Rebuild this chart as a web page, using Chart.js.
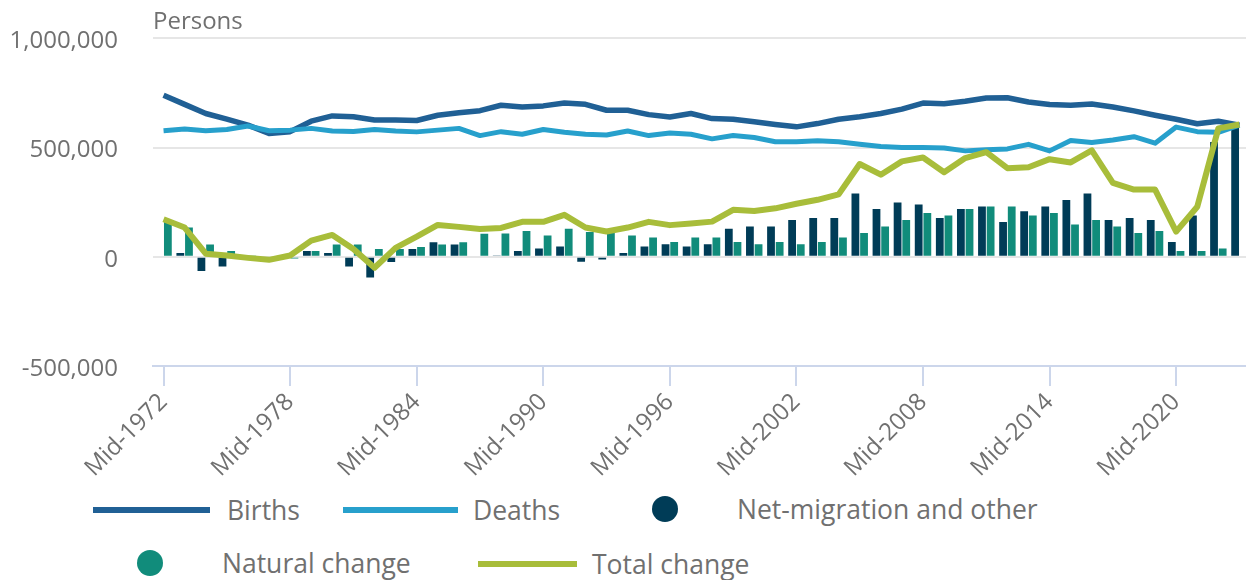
<!DOCTYPE html>
<html>
<head>
<meta charset="utf-8">
<script src="https://cdn.jsdelivr.net/npm/chart.js@4"></script>
<style>
    body { margin: 0; background: #fff; font-family: 'Open Sans', sans-serif; }
    #wrap { position: relative; width: 1246px; height: 580px; overflow: hidden; }
    #chartBox { position: absolute; left: 0; top: -11px; width: 1250px; height: 491px; }
    #unitLabel { position: absolute; left: 153px; top: 2px; font-size: 24px; line-height: 36px; color: #707070; }
    .legend-item { position: absolute; display: flex; align-items: center; font-size: 26.5px; line-height: 36px; color: #707070; white-space: nowrap; }
    .swatch-line { height: 6px; }
    .swatch-dot { width: 26px; height: 26px; border-radius: 50%; }
</style>
</head>
<body>
<div id="wrap">
    <div id="chartBox"><canvas id="popChart"></canvas></div>
    <div id="unitLabel">Persons</div>
    <div id="legend"></div>
</div>
<script>
const periods = [
    'Mid-1972', 'Mid-1973', 'Mid-1974', 'Mid-1975', 'Mid-1976', 'Mid-1977', 'Mid-1978', 'Mid-1979', 'Mid-1980', 'Mid-1981',
    'Mid-1982', 'Mid-1983', 'Mid-1984', 'Mid-1985', 'Mid-1986', 'Mid-1987', 'Mid-1988', 'Mid-1989', 'Mid-1990', 'Mid-1991',
    'Mid-1992', 'Mid-1993', 'Mid-1994', 'Mid-1995', 'Mid-1996', 'Mid-1997', 'Mid-1998', 'Mid-1999', 'Mid-2000', 'Mid-2001',
    'Mid-2002', 'Mid-2003', 'Mid-2004', 'Mid-2005', 'Mid-2006', 'Mid-2007', 'Mid-2008', 'Mid-2009', 'Mid-2010', 'Mid-2011',
    'Mid-2012', 'Mid-2013', 'Mid-2014', 'Mid-2015', 'Mid-2016', 'Mid-2017', 'Mid-2018', 'Mid-2019', 'Mid-2020', 'Mid-2021',
    'Mid-2022', 'Mid-2023'
];
const tickLabels = ['Mid-1972', 'Mid-1978', 'Mid-1984', 'Mid-1990', 'Mid-1996', 'Mid-2002', 'Mid-2008', 'Mid-2014', 'Mid-2020'];

const births = [
    740000, 698000, 656000, 630000, 603000, 565000, 573000, 621000, 645000, 641000,
    626000, 626000, 624000, 648000, 660000, 669000, 694000, 686000, 691000, 704000,
    698000, 671000, 671000, 651000, 640000, 656000, 633000, 630000, 618000, 606000,
    595000, 610000, 630000, 641000, 656000, 676000, 704000, 701000, 712000, 727000,
    728000, 709000, 697000, 694000, 700000, 686000, 668000, 648000, 630000, 609000,
    621000, 603000
];
const deaths = [
    577000, 585000, 577000, 583000, 599000, 577000, 580000, 588000, 576000, 574000,
    583000, 576000, 572000, 580000, 588000, 555000, 573000, 561000, 583000, 570000,
    561000, 558000, 576000, 555000, 567000, 561000, 540000, 555000, 546000, 527000,
    527000, 531000, 527000, 515000, 505000, 500000, 500000, 498000, 485000, 490000,
    494000, 515000, 485000, 533000, 523000, 535000, 550000, 520000, 594000, 573000,
    570000, 603000
];
const netMigration = [
    5000, 17000, -65000, -44000, -5000, -10000, 5000, 26000, 17000, -44000,
    -95000, -24000, 36000, 67000, 56000, 5000, 6000, 27000, 38000, 47000,
    -23000, -12000, 17000, 47000, 57000, 47000, 57000, 129000, 139000, 139000,
    169000, 178000, 178000, 290000, 219000, 249000, 239000, 178000, 219000, 230000,
    159000, 209000, 230000, 260000, 290000, 169000, 178000, 169000, 68000, 189000,
    526000, 595000
];
const naturalChange = [
    165000, 134000, 56000, 26000, 2000, -4000, -8000, 26000, 56000, 56000,
    36000, 36000, 45000, 56000, 67000, 106000, 107000, 118000, 98000, 129000,
    113000, 113000, 98000, 88000, 68000, 88000, 88000, 68000, 57000, 68000,
    57000, 68000, 88000, 109000, 139000, 169000, 200000, 189000, 219000, 230000,
    230000, 189000, 200000, 148000, 169000, 139000, 109000, 118000, 27000, 27000,
    38000, 5000
];
const totalChange = [
    172000, 134000, 14000, 6000, -5000, -14000, 6000, 74000, 100000, 36000,
    -50000, 41000, 92000, 146000, 137000, 127000, 132000, 160000, 160000, 192000,
    134000, 116000, 134000, 160000, 145000, 152000, 161000, 215000, 210000, 222000,
    243000, 261000, 286000, 425000, 376000, 437000, 455000, 387000, 452000, 479000,
    406000, 410000, 447000, 432000, 487000, 338000, 308000, 308000, 115000, 229000,
    588000, 606000
];

const colors = {
    births: '#206095',
    deaths: '#27a0cc',
    netMigration: '#003c57',
    naturalChange: '#118c7b',
    totalChange: '#a8bd3a'
};
const textColor = '#707070';
const fontFamily = "'Open Sans', sans-serif";

// Legend entries, laid out like the original (two rows, fixed spots)
const legendItems = [
    { label: 'Births', color: colors.births, kind: 'line', left: 93, top: 492, size: 117, gap: 17 },
    { label: 'Deaths', color: colors.deaths, kind: 'line', left: 343, top: 492, size: 115, gap: 15 },
    { label: 'Net-migration and other', color: colors.netMigration, kind: 'dot', left: 652, top: 491, size: 26, gap: 59 },
    { label: 'Natural change', color: colors.naturalChange, kind: 'dot', left: 137, top: 545, size: 26, gap: 59 },
    { label: 'Total change', color: colors.totalChange, kind: 'line', left: 478, top: 546, size: 99, gap: 15 }
];

function buildLegend() {
    const box = document.getElementById('legend');
    legendItems.forEach(item => {
        const el = document.createElement('div');
        el.className = 'legend-item';
        el.style.left = item.left + 'px';
        el.style.top = item.top + 'px';
        const sw = item.kind === 'line'
            ? `<span class="swatch-line" style="width:${item.size}px;background:${item.color};margin-right:${item.gap}px"></span>`
            : `<span class="swatch-dot" style="background:${item.color};margin-right:${item.gap}px"></span>`;
        el.innerHTML = sw + `<span>${item.label}</span>`;
        box.appendChild(el);
    });
}

function lineSet(label, data, color, width, order) {
    return {
        type: 'line',
        label: label,
        data: data,
        borderColor: color,
        backgroundColor: color,
        borderWidth: width,
        pointRadius: 0,
        tension: 0,
        borderJoinStyle: 'round',
        order: order
    };
}

const ctx = document.getElementById('popChart').getContext('2d');
new Chart(ctx, {
    type: 'bar',
    data: {
        labels: periods,
        datasets: [
            lineSet('Total change', totalChange, colors.totalChange, 6, 0),
            lineSet('Deaths', deaths, colors.deaths, 5, 1),
            lineSet('Births', births, colors.births, 5.5, 2),
            {
                label: 'Net-migration and other',
                data: netMigration,
                backgroundColor: colors.netMigration,
                categoryPercentage: 0.82,
                barPercentage: 0.9,
                order: 3
            },
            {
                label: 'Natural change',
                data: naturalChange,
                backgroundColor: colors.naturalChange,
                categoryPercentage: 0.82,
                barPercentage: 0.9,
                order: 3
            }
        ]
    },
    options: {
        responsive: true,
        maintainAspectRatio: false,
        animation: false,
        layout: { padding: { top: 25, left: 0, right: 0, bottom: 0 } },
        plugins: {
            legend: { display: false },
            tooltip: { enabled: false }
        },
        scales: {
            x: {
                offset: true,
                grid: {
                    display: true,
                    drawOnChartArea: false,
                    drawTicks: true,
                    tickLength: 20,
                    color: '#ccd6eb',
                    lineWidth: 2,
                    offset: false
                },
                border: { display: true, color: '#ccd6eb', width: 2 },
                ticks: {
                    autoSkip: false,
                    minRotation: 45,
                    maxRotation: 45,
                    padding: 2,
                    color: textColor,
                    font: { family: fontFamily, size: 24 }
                },
                afterBuildTicks: scale => {
                    scale.ticks = scale.ticks.filter(t => tickLabels.includes(periods[t.value]));
                },
                afterFit: scale => { scale.height = 114; }
            },
            y: {
                min: -500000,
                max: 1000000,
                ticks: {
                    stepSize: 500000,
                    padding: 35,
                    labelOffset: 3,
                    color: textColor,
                    font: { family: fontFamily, size: 24 },
                    callback: v => v.toLocaleString('en-GB')
                },
                grid: {
                    color: c => (c.tick && c.tick.value === -500000) ? 'rgba(0,0,0,0)' : '#e6e6e6',
                    lineWidth: 2,
                    drawTicks: false
                },
                border: { display: false },
                afterFit: scale => { scale.width = 153; }
            }
        }
    }
});

buildLegend();
</script>
</body>
</html>
